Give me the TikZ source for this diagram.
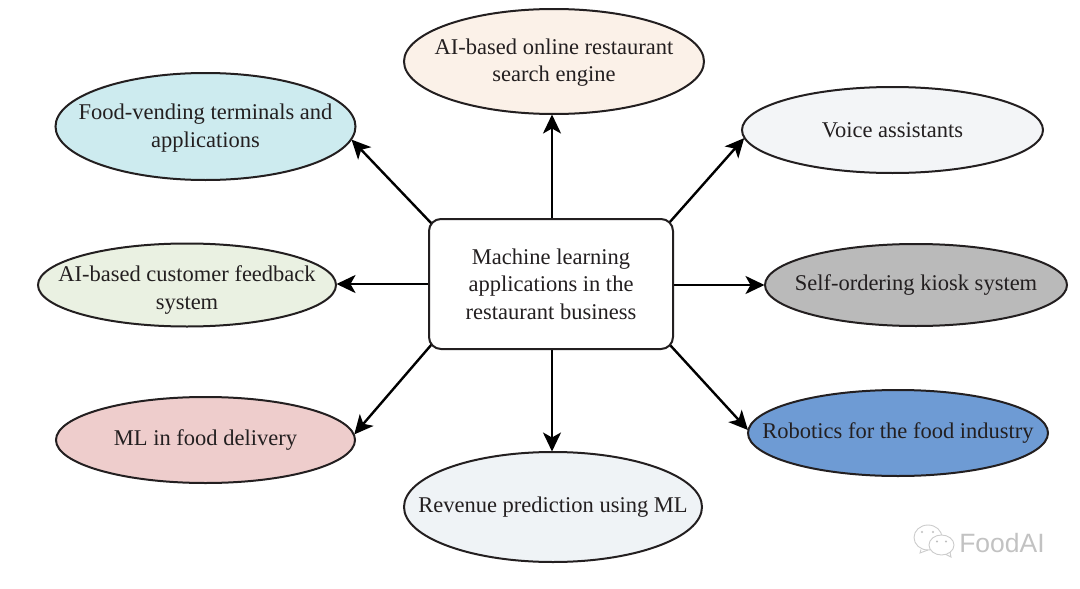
\documentclass[tikz,border=0pt]{standalone}
\usepackage{fontspec}
\setmainfont{Liberation Serif}
\newfontfamily\wmfont{Liberation Sans}
\usetikzlibrary{shapes.geometric,arrows.meta,backgrounds}
\definecolor{ink}{HTML}{231F20}
\tikzset{
  x=1pt,y=-1pt,
  topic/.style={ellipse,draw=ink,line width=2pt,inner xsep=-40pt,inner ysep=-15pt,outer sep=0pt,align=center,text=ink,
    font=\fontsize{22.5}{27.5}\selectfont,minimum width=#1},
  caption/.style={inner sep=0pt,align=center,text=ink,font=\fontsize{22.5}{27.5}\selectfont},
  hub/.style={rectangle,rounded corners=12pt,draw=ink,line width=2pt,fill=white,inner sep=0pt,outer sep=0pt,
    minimum width=244pt,minimum height=130pt,align=center,text=ink,font=\fontsize{22.5}{27.5}\selectfont},
  link/.style={draw=black,line width=2.4pt,-{Stealth[length=19pt,width=18pt,inset=5pt]},shorten >=0.5pt},
  wm/.style={draw=black!20,line width=0.9pt,fill=white}
}
\begin{document}
\begin{tikzpicture}
\useasboundingbox (0,0) rectangle (1080,589);
\node[hub] (hub) at (551,284) {Machine learning\\applications in the\\restaurant business};
\node[topic=300pt,minimum height=105pt,fill={rgb,255:red,251;green,241;blue,232}] (search) at (554,61.5) {};
\node[caption] (searchtext) at (554,62.5) {AI-based online restaurant\\search engine};
\node[topic=300pt,minimum height=107pt,fill={rgb,255:red,205;green,235;blue,239}] (vending) at (205.5,126.5) {};
\node[caption] (vendingtext) at (205.5,128) {Food-vending terminals and\\applications};
\node[topic=301pt,minimum height=86pt,fill={rgb,255:red,243;green,245;blue,247}] (voice) at (892.5,130) {Voice assistants};
\node[topic=298pt,minimum height=83pt,fill={rgb,255:red,234;green,241;blue,226}] (feedback) at (187,285) {};
\node[caption] (feedbacktext) at (187,290) {AI-based customer feedback\\system};
\node[topic=302pt,minimum height=82pt,fill={rgb,255:red,186;green,186;blue,186}] (kiosk) at (916,285) {\raisebox{-1pt}{Self-ordering kiosk system}};
\node[topic=299pt,minimum height=86pt,fill={rgb,255:red,238;green,205;blue,204}] (delivery) at (205.5,440) {ML in food delivery};
\node[topic=300pt,minimum height=86pt,fill={rgb,255:red,110;green,155;blue,212}] (robotics) at (898,433) {\raisebox{-1pt}{Robotics for the food industry}};
\node[topic=298pt,minimum height=110pt,fill={rgb,255:red,239;green,243;blue,246}] (revenue) at (553,507) {\raisebox{-2pt}{Revenue prediction using ML}};
\begin{pgfonlayer}{background}
\draw[link] ([shift={(1,0)}]hub.north) -- ([shift={(1,0)}]hub.north |- search.south);
\draw[link] ([shift={(3,5)}]hub.north west) -- (vending.355.5);
\draw[link] ([shift={(-4,4)}]hub.north east) -- (voice.183);
\draw[link] (hub.west) -- (hub.west -| feedback.east);
\draw[link] ([shift={(0,1)}]hub.east) -- (kiosk.west);
\draw[link] ([shift={(3,-5)}]hub.south west) -- (delivery.2);
\draw[link] ([shift={(1,0)}]hub.south) -- ([shift={(1,0)}]hub.south |- revenue.north);
\draw[link] ([shift={(-3,-4)}]hub.south east) -- (robotics.179);
\end{pgfonlayer}
% watermark
\draw[wm] (928,537.5) ellipse (14pt and 12.5pt);
\draw[wm,fill=none] (921,549.5) -- (920,553) -- (928,550);
\draw[wm] (941.5,545) ellipse (12.5pt and 10pt);
\draw[wm,fill=none] (946,554.5) -- (951,557) -- (950,552);
\fill[black!25] (922,532) circle (1.2pt) (933,532) circle (1.2pt) (937,541.5) circle (1.1pt) (946,541.5) circle (1.1pt);
\node[inner sep=0pt,text=black!24,font=\wmfont\fontsize{26.5}{26.5}\selectfont] (mark) at (1002,543) {FoodAI};
\end{tikzpicture}
\end{document}
